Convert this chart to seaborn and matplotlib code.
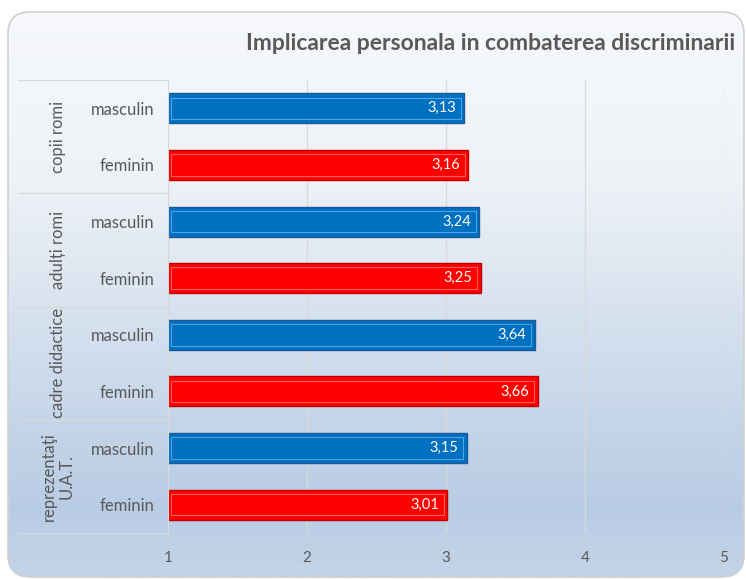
import numpy as np
import pandas as pd
import matplotlib
matplotlib.use("Agg")
import matplotlib.pyplot as plt
from matplotlib.patches import FancyBboxPatch, Rectangle
from matplotlib.colors import LinearSegmentedColormap
import seaborn as sns

# Data
groups = ["copii romi", "adulți romi", "cadre didactice", "reprezentaţi\nU.A.T."]
genders = ["masculin", "feminin"]
values = [3.13, 3.16, 3.24, 3.25, 3.64, 3.66, 3.15, 3.01]
x_ticks = [1, 2, 3, 4, 5]
title = "Implicarea personala in combaterea discriminarii"

rows = []
for gi, g in enumerate(groups):
    for si, s in enumerate(genders):
        rows.append({"row": f"{gi}-{s}", "group": g, "gen": s, "val": values[gi * 2 + si]})
df = pd.DataFrame(rows)

sns.set_style("white")
plt.rcParams["font.family"] = ["Lato", "DejaVu Sans"]
txt = "#595959"

fig = plt.figure(figsize=(7.46, 5.79), dpi=100)

# background: rounded frame filled with a vertical gradient
bg = fig.add_axes([0, 0, 1, 1], zorder=-2)
bg.set_xlim(0, 746)
bg.set_ylim(579, 0)
bg.axis("off")
cmap = LinearSegmentedColormap.from_list(
    "bgr", [(0, "#f6f8fb"), (0.3, "#eef2f7"), (0.62, "#cfdcec"), (0.88, "#b8cce4"), (1, "#c4d4e8")])
grad = np.linspace(0, 1, 256).reshape(-1, 1)
im = bg.imshow(grad, cmap=cmap, aspect="auto", extent=[8, 744, 577, 12])
frame = FancyBboxPatch((8, 12), 736, 565, boxstyle="round,pad=0,rounding_size=22",
                       facecolor="none", edgecolor="#d0d0d0", linewidth=1.2)
bg.add_patch(frame)
im.set_clip_path(frame)

ax = fig.add_axes([168 / 746, 1 - 533 / 579, 556 / 746, 453 / 579])
ax.set_facecolor("none")
sns.barplot(data=df, y="row", x="val", hue="gen", dodge=False, ax=ax,
            palette={"masculin": "#0070c0", "feminin": "#ff0000"},
            width=0.53, legend=False, saturation=1, orient="h")

ax.set_xlim(1, 5)
ax.set_ylim(7.5, -0.5)
ax.set_xticks(x_ticks)
ax.set_xticklabels([str(t) for t in x_ticks], color=txt, fontsize=11)
ax.tick_params(axis="x", length=0, pad=13)
ax.tick_params(axis="y", length=0, pad=10)
ax.set_yticks(range(len(df)))
ax.set_yticklabels(df["gen"], color=txt, fontsize=12)
ax.set_xlabel("")
ax.set_ylabel("")
for sp in ["top", "right", "bottom"]:
    ax.spines[sp].set_visible(False)
ax.spines["left"].set_color("#d9d9d9")
ax.grid(axis="x", color="#d9d9d9", linewidth=0.9)
ax.set_axisbelow(True)

# bevel look + value labels
edge_cols = {"#0070c0": ("#1b5a94", "#4fa3e6"), "#ff0000": ("#c00000", "#ff6060")}
bars = sorted([p for p in ax.patches if p.get_height() > 0], key=lambda p: p.get_y())
for p, v in zip(bars, df["val"]):
    fc = matplotlib.colors.to_hex(p.get_facecolor())
    dark, light = edge_cols.get(fc, ("#333333", "#aaaaaa"))
    p.set_edgecolor(dark)
    p.set_linewidth(1.0)
    x0, y0, w, h = 1, p.get_y(), v - 1, p.get_height()
    ax.add_patch(Rectangle((x0 + 0.025, y0 + h * 0.14), w - 0.05, h * 0.72,
                           facecolor="none", edgecolor=light, linewidth=0.8, zorder=p.get_zorder() + 0.1))
    ax.text(v - 0.06, y0 + h / 2, f"{v:.2f}".replace(".", ","), color="white",
            ha="right", va="center", fontsize=10.5, zorder=5)

# group table on the left
lx = 18 / 746
ax_x = 168 / 746
top = 1 - 80 / 579
bot = 1 - 533 / 579
n = len(groups)
for i in range(n + 1):
    yy = top - (top - bot) * i / n
    fig.add_artist(plt.Line2D([lx, ax_x], [yy, yy], color="#d9d9d9", linewidth=0.9,
                              transform=fig.transFigure))
for i, g in enumerate(groups):
    yc = top - (top - bot) * (i + 0.5) / n
    fig.text(58 / 746, yc, g, rotation=90, ha="center", va="center", color=txt,
             fontsize=12, multialignment="center", linespacing=1.15)

fig.text(491 / 746, 1 - 44 / 579, title, ha="center", va="center", color=txt,
         fontsize=16.5, fontweight="bold")

fig.savefig("out.png", dpi=100)
